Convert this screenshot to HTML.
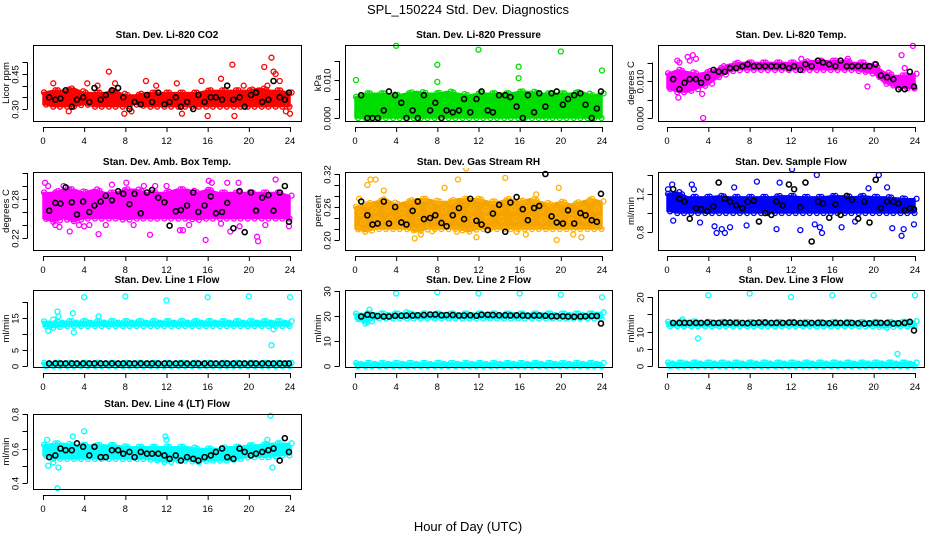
<!DOCTYPE html>
<html><head><meta charset="utf-8"><title>SPL_150224 Std. Dev. Diagnostics</title>
<style>
html,body{margin:0;padding:0;background:#fff;}
svg{display:block;font-family:"Liberation Sans",sans-serif;}
</style></head>
<body>
<svg id="fig" width="936" height="540" viewBox="0 0 936 540" xmlns="http://www.w3.org/2000/svg">
<rect x="0" y="0" width="936" height="540" fill="#fff"/>
<text x="468" y="14" text-anchor="middle" font-size="13">SPL_150224  Std. Dev. Diagnostics</text>
<text x="468" y="531" text-anchor="middle" font-size="13">Hour of Day (UTC)</text>
</svg>
<script>
// ---- shared data ----
const blackHours=[0.6,1.2,1.7,2.2,2.8,3.3,3.9,4.5,5.0,5.6,6.1,6.7,7.3,7.8,8.4,8.9,9.5,10.1,10.6,11.2,11.8,12.3,12.9,13.4,14.0,14.6,15.1,15.7,16.3,16.8,17.4,17.9,18.5,19.1,19.6,20.2,20.7,21.3,21.9,22.4,23.0,23.5,23.9];
const bandHours=[0,1,2,3,4,5,6,7,8,9,10,11,12,13,14,15,16,17,18,19,20,21,22,23,24];
const xTicks=[0,4,8,12,16,20,24];

// CO2
const co2Lo=[0.32,0.31,0.31,0.31,0.32,0.31,0.31,0.31,0.31,0.32,0.31,0.31,0.31,0.31,0.31,0.31,0.31,0.31,0.31,0.31,0.31,0.31,0.31,0.31,0.31];
const co2Hi=[0.37,0.38,0.38,0.39,0.37,0.37,0.37,0.38,0.36,0.36,0.37,0.37,0.37,0.37,0.37,0.37,0.38,0.38,0.38,0.38,0.38,0.39,0.38,0.38,0.37];
const co2OutX=[1.0,2.5,4.3,5.3,6.4,7.0,7.9,8.6,10.0,11.0,13.0,13.5,15.4,16.0,17.3,18.0,18.4,18.6,19.5,21.5,21.8,22.2,22.4,22.6,23.0,23.6,24.0];
const co2OutY=[0.41,0.29,0.41,0.40,0.46,0.41,0.28,0.29,0.42,0.40,0.41,0.28,0.42,0.27,0.43,0.37,0.49,0.27,0.40,0.48,0.40,0.52,0.46,0.45,0.42,0.29,0.28];
const co2Black=[0.35,0.34,0.345,0.38,0.31,0.34,0.35,0.33,0.39,0.34,0.36,0.38,0.39,0.35,0.30,0.33,0.32,0.36,0.33,0.37,0.32,0.33,0.35,0.31,0.33,0.30,0.36,0.33,0.35,0.35,0.34,0.40,0.34,0.35,0.31,0.36,0.37,0.33,0.34,0.42,0.35,0.34,0.37];
const co2Ticks=[0.30,0.35,0.40,0.45,0.50];
const co2Labels=["0.30","","","0.45",""];

// Pressure
const prLo=[0,0,0,0,0,0,0,0,0,0,0,0,0,0,0,0,0,0,0,0,0,0,0,0,0];
const prHi=[0.0055,0.0065,0.0065,0.0065,0.006,0.0065,0.007,0.0065,0.0065,0.007,0.0065,0.006,0.0065,0.0065,0.0065,0.0065,0.007,0.007,0.0065,0.0065,0.0065,0.0065,0.007,0.006,0.0065];
const prOutX=[0.1,4.0,8.0,8.0,12.0,15.9,15.9,20.0,24.0];
const prOutY=[0.010,0.019,0.014,0.0095,0.018,0.0135,0.0105,0.0175,0.0125];
const prBlack=[0.006,0,0,0,0.002,0.007,0.006,0.004,0,0.002,0,0.006,0.002,0.004,0,0.002,0.0015,0.002,0.005,0.0015,0.005,0.007,0.002,0.0015,0.006,0.006,0.0055,0.003,0,0.006,0.0015,0.0065,0.003,0.0065,0.007,0.0035,0.005,0.006,0.0065,0.0035,0,0.0025,0.007];
const prTicks=[0,0.005,0.010,0.015];
const prLabels=["0.000","","0.010",""];

// Li-820 temp
const tpLo=[0.008,0.007,0.007,0.008,0.009,0.011,0.0125,0.013,0.013,0.013,0.013,0.013,0.013,0.013,0.013,0.013,0.013,0.013,0.013,0.0125,0.012,0.0095,0.0085,0.008,0.008];
const tpHi=[0.012,0.013,0.0125,0.012,0.0125,0.0135,0.0145,0.015,0.015,0.015,0.015,0.015,0.015,0.015,0.0155,0.0155,0.0155,0.0155,0.015,0.015,0.0145,0.0125,0.0115,0.0115,0.012];
const tpOutX=[1.0,1.2,2.0,2.2,2.5,2.8,3.4,3.5,1.1,19.4,22.7,23.0,23.8,13.0,17.5];
const tpOutY=[0.0155,0.015,0.0165,0.0155,0.017,0.016,0.0065,0.0,0.0055,0.0085,0.017,0.0135,0.0195,0.016,0.016];
const tpBlack=[0.0105,0.0078,0.0095,0.0105,0.0105,0.0095,0.011,0.013,0.0125,0.0125,0.0135,0.0135,0.014,0.0145,0.014,0.014,0.014,0.014,0.014,0.014,0.0135,0.014,0.013,0.0145,0.014,0.0155,0.015,0.0145,0.014,0.0155,0.014,0.014,0.014,0.014,0.014,0.0145,0.0115,0.011,0.0105,0.0078,0.0078,0.0125,0.0085];
const tpTicks=[0,0.005,0.010,0.015];
const tpLabels=["0.000","","0.010",""];

// Ambient box temp
const abLo=[0.25,0.245,0.25,0.245,0.25,0.25,0.25,0.25,0.248,0.25,0.25,0.25,0.25,0.25,0.25,0.248,0.25,0.25,0.25,0.25,0.25,0.25,0.25,0.25,0.25];
const abHi=[0.29,0.29,0.295,0.295,0.29,0.295,0.29,0.29,0.295,0.295,0.29,0.29,0.29,0.295,0.295,0.29,0.295,0.29,0.29,0.29,0.29,0.29,0.29,0.29,0.285];
const abOutX=[0.2,0.5,1.2,1.6,2.6,3.5,4.0,4.5,5.4,6.1,6.7,8.8,10.4,10.9,12.0,13.3,13.6,15.8,16.1,16.4,17.3,17.9,18.2,19.1,20.8,20.9,21.6,22.6,23.5,23.9,2.0,8.1,14.2,19.0,9.8];
const abOutY=[0.305,0.30,0.240,0.237,0.230,0.24,0.238,0.24,0.226,0.24,0.302,0.240,0.225,0.30,0.30,0.232,0.232,0.217,0.308,0.305,0.242,0.305,0.23,0.238,0.222,0.215,0.24,0.31,0.26,0.238,0.30,0.305,0.24,0.305,0.30];
const abBlack=[0.262,0.274,0.273,0.298,0.275,0.256,0.276,0.260,0.270,0.276,0.285,0.278,0.292,0.288,0.272,0.288,0.258,0.290,0.294,0.282,0.275,0.239,0.261,0.263,0.270,0.290,0.260,0.270,0.284,0.258,0.260,0.274,0.235,0.292,0.229,0.290,0.262,0.282,0.286,0.262,0.290,0.300,0.245];
const abTicks=[0.22,0.24,0.26,0.28,0.30,0.32];
const abLabels=["0.22","","","0.28","",""];

// Gas stream RH
const rhLo=[0.22,0.215,0.22,0.22,0.22,0.22,0.215,0.22,0.22,0.22,0.22,0.215,0.22,0.22,0.22,0.22,0.22,0.22,0.22,0.22,0.22,0.22,0.22,0.22,0.22];
const rhHi=[0.26,0.265,0.27,0.275,0.265,0.27,0.275,0.275,0.27,0.27,0.275,0.275,0.275,0.27,0.27,0.275,0.27,0.275,0.27,0.265,0.27,0.265,0.27,0.275,0.27];
const rhOutX=[0.4,1.2,1.5,2.0,2.8,5.8,6.4,7.5,8.7,10.0,10.8,11.8,14.6,15.7,16.6,17.6,19.6,19.8,21.2,22.0,9.9,4.1];
const rhOutY=[0.275,0.300,0.310,0.310,0.290,0.203,0.210,0.216,0.295,0.310,0.330,0.205,0.313,0.215,0.210,0.283,0.200,0.295,0.210,0.205,0.215,0.225];
const rhBlack=[0.270,0.245,0.228,0.230,0.270,0.230,0.260,0.232,0.228,0.253,0.270,0.238,0.240,0.245,0.231,0.225,0.245,0.258,0.238,0.275,0.235,0.228,0.218,0.248,0.264,0.215,0.268,0.278,0.256,0.236,0.258,0.262,0.320,0.243,0.232,0.230,0.254,0.230,0.249,0.245,0.236,0.233,0.284];
const rhTicks=[0.20,0.22,0.24,0.26,0.28,0.30,0.32];
const rhLabels=["0.20","","","0.26","","","0.32"];

// Sample flow
const sfLo=[1.02,1.0,1.0,1.0,1.0,1.0,1.0,1.0,1.0,1.0,1.0,1.0,1.0,1.0,1.0,1.0,1.0,1.0,1.0,1.0,1.0,1.0,1.0,1.0,1.0];
const sfHi=[1.2,1.22,1.17,1.17,1.17,1.18,1.17,1.17,1.17,1.17,1.17,1.18,1.18,1.17,1.17,1.17,1.18,1.18,1.17,1.18,1.17,1.17,1.16,1.15,1.15];
const sfOutX=[0.1,0.6,0.5,2.4,2.6,3.2,4.6,4.8,5.3,5.6,6.1,6.5,7.7,8.7,10.6,10.9,12.1,12.9,14.3,14.5,14.8,15.0,16.9,18.2,19.5,20.5,21.3,21.8,22.7,22.9,23.9];
const sfOutY=[1.25,0.92,1.3,1.3,1.25,0.9,0.86,0.79,0.83,0.79,0.85,1.27,0.87,1.33,0.83,1.32,1.46,0.82,0.88,1.40,0.85,0.79,0.85,0.91,1.26,1.40,1.27,0.84,0.76,0.83,0.88];
const sfBlack=[1.25,1.15,1.12,0.94,1.05,1.04,1.02,1.07,1.32,1.15,1.12,1.08,1.05,1.12,1.13,0.91,1.0,0.98,1.12,1.08,1.30,1.25,1.06,1.32,0.7,1.12,1.10,0.95,1.09,0.98,1.18,1.14,0.94,1.12,0.90,1.35,1.05,1.12,1.12,1.10,1.03,1.05,1.04];
const sfTicks=[0.8,1.0,1.2,1.4];
const sfLabels=["0.8","","1.2",""];

// Line 1 flow
const l1Lo=[12.5,12,12.5,12.5,12.5,12.5,12.5,12.5,12.5,12.5,12.5,12.5,12.5,12.5,12.5,12.5,12.5,12.5,12.5,12.5,12.5,12.5,12.5,12.5,12.5];
const l1Hi=[14,13.5,14,14,14,14,14,14,14,14,14,14,14,14,14,14,14,14,14,14,14,14,14,14,14];
const l1Lo2=[0,0,0,0,0,0,0,0,0,0,0,0,0,0,0,0,0,0,0,0,0,0,0,0,0];
const l1Hi2=[1,1,1,1,1,1,1,1,1,1,1,1,1,1,1,1,1,1,1,1,1,1,1,1,1];
const l1OutX=[0.5,1.4,1.5,2.9,3.0,4.0,5.4,8.0,12.0,16.0,20.0,22.2,22.4,24.0,1.0];
const l1OutY=[11,17,15.5,16.5,10.5,21.5,15.5,21.8,20.5,21.5,21.8,6.5,11.5,21.5,14.5];
const l1Black=[0.8,0.8,0.8,0.8,0.8,0.8,0.8,0.8,0.8,0.8,0.8,0.8,0.8,0.8,0.8,0.8,0.8,0.8,0.8,0.8,0.8,0.8,0.8,0.8,0.8,0.8,0.8,0.8,0.8,0.8,0.8,0.8,0.8,0.8,0.8,0.8,0.8,0.8,0.8,0.8,0.8,0.8,0.8];
const l1Ticks=[0,5,10,15,20];
const l1Labels=["0","5","","15",""];

// Line 2 flow
const l2Lo=[19,17,19,19,19,19,19,19,19,19,19,19,19,19,19,19,19,19,19,19,19,19,19,19,19];
const l2Hi=[21,21,21,21,21,21,21,21,21,21,21,21,21,21,21,21,21,21,21,21,21,21,21,21,21.5];
const l2Lo2=[0,0,0,0,0,0,0,0,0,0,0,0,0,0,0,0,0,0,0,0,0,0,0,0,0];
const l2Hi2=[1.2,1.2,1.2,1.2,1.2,1.2,1.2,1.2,1.2,1.2,1.2,1.2,1.2,1.2,1.2,1.2,1.2,1.2,1.2,1.2,1.2,1.2,1.2,1.2,1.2];
const l2OutX=[1.4,1.2,4.0,5.0,8.0,12.0,16.0,20.0,24.0];
const l2OutY=[22.5,17.5,29,21.5,29.5,29,29,28.5,27.5];
const l2Black=[19.8,20.5,20.3,20.0,19.8,19.8,20.1,20.1,20.2,20.2,20.3,20.4,20.6,20.6,20.3,20.4,20.4,20.2,20.2,20.3,20.1,20.5,20.5,20.4,20.3,20.3,20.2,20.3,20.2,20.1,20.2,20.2,20.1,19.9,19.9,19.9,19.8,19.7,19.8,19.9,20.0,20.0,17.0];
const l2Ticks=[0,10,20,30];
const l2Labels=["0","10","20","30"];

// Line 3 flow
const l3Lo=[11.5,11.5,11.5,11.5,11.5,11.5,11.5,11.5,11.5,11.5,11.5,11.5,11.5,11.5,11.5,11.5,11.5,11.5,11.5,11.5,11.5,11,11.5,11.5,11.5];
const l3Hi=[12.8,12.8,13,12.8,12.8,12.8,12.8,12.8,12.8,12.8,12.8,12.8,12.8,12.8,12.8,12.8,12.8,12.8,12.8,12.8,12.8,12.8,12.8,12.8,13];
const l3Lo2=[0,0,0,0,0,0,0,0,0,0,0,0,0,0,0,0,0,0,0,0,0,0,0,0,0];
const l3Hi2=[1,1,1,1,1,1,1,1,1,1,1,1,1,1,1,1,1,1,1,1,1,1,1,1,1];
const l3OutX=[1.5,3.0,4.0,8.0,12.0,16.0,20.0,22.3,24.0];
const l3OutY=[13.5,8,20.5,21,20,20.5,20.5,3.5,20.5];
const l3Black=[12.5,12.5,12.5,12.5,12.5,12.5,12.6,12.5,12.5,12.6,12.6,12.5,12.5,12.4,12.5,12.6,12.6,12.5,12.5,12.5,12.6,12.6,12.5,12.4,12.5,12.5,12.5,12.4,12.5,12.5,12.5,12.5,12.4,12.3,12.4,12.5,12.5,12.5,12.3,12.4,12.5,12.8,10.3];
const l3Ticks=[0,5,10,15,20];
const l3Labels=["0","5","10","","20"];

// Line 4 (LT) flow
const l4Lo=[0.56,0.54,0.54,0.54,0.54,0.54,0.54,0.54,0.54,0.54,0.54,0.53,0.52,0.53,0.53,0.52,0.53,0.53,0.53,0.54,0.55,0.55,0.55,0.56,0.56];
const l4Hi=[0.62,0.63,0.63,0.62,0.62,0.62,0.62,0.62,0.61,0.61,0.61,0.61,0.61,0.61,0.61,0.6,0.6,0.6,0.61,0.61,0.62,0.62,0.63,0.63,0.63];
const l4OutX=[0.4,0.5,1.0,1.4,1.5,2.9,4.0,11.9,12.0,22.1,22.3,21.8,23.9];
const l4OutY=[0.65,0.5,0.52,0.37,0.49,0.67,0.7,0.67,0.65,0.79,0.49,0.65,0.6];
const l4Black=[0.55,0.56,0.6,0.59,0.59,0.63,0.61,0.56,0.61,0.55,0.55,0.59,0.59,0.57,0.58,0.55,0.58,0.57,0.57,0.57,0.56,0.54,0.56,0.53,0.55,0.54,0.53,0.55,0.56,0.58,0.6,0.55,0.54,0.6,0.58,0.56,0.57,0.58,0.59,0.6,0.53,0.66,0.58];
const l4Ticks=[0.4,0.5,0.6,0.7,0.8];
const l4Labels=["0.4","","0.6","","0.8"];

// ---- layout ----
const cols=[{bl:33,br:301,x0:43,x24:290},{bl:345,br:612,x0:355,x24:602},{bl:658,br:924,x0:667,x24:915}];
const rows=[{bt:45,bb:121},{bt:172,bb:250},{bt:290,bb:367},{bt:414,bb:489}];
const panels=[
 {name:"co2",title:"Stan. Dev. Li-820 CO2",yl:"Licor ppm",c:0,r:0,col:"#ff0000",v0:0.30,p0:109,v1:0.45,p1:74,bands:[[co2Lo,co2Hi]],ox:co2OutX,oy:co2OutY,bk:co2Black,ticks:co2Ticks,labels:co2Labels},
 {name:"pressure",title:"Stan. Dev. Li-820 Pressure",yl:"kPa",c:1,r:0,col:"#00dd00",v0:0,p0:118,v1:0.010,p1:80,bands:[[prLo,prHi]],ox:prOutX,oy:prOutY,bk:prBlack,ticks:prTicks,labels:prLabels},
 {name:"li820-temp",title:"Stan. Dev. Li-820 Temp.",yl:"degrees C",c:2,r:0,col:"#ff00ff",v0:0,p0:118,v1:0.010,p1:81,bands:[[tpLo,tpHi]],ox:tpOutX,oy:tpOutY,bk:tpBlack,ticks:tpTicks,labels:tpLabels},
 {name:"amb-box-temp",title:"Stan. Dev. Amb. Box Temp.",yl:"degrees C",c:0,r:1,col:"#ff00ff",v0:0.22,p0:238,v1:0.28,p1:199,bands:[[abLo,abHi]],ox:abOutX,oy:abOutY,bk:abBlack,ticks:abTicks,labels:abLabels},
 {name:"gas-stream-rh",title:"Stan. Dev. Gas Stream RH",yl:"percent",c:1,r:1,col:"#f5a300",oc:"#ffb000",v0:0.20,p0:240,v1:0.32,p1:174,bands:[[rhLo,rhHi]],ox:rhOutX,oy:rhOutY,bk:rhBlack,ticks:rhTicks,labels:rhLabels},
 {name:"sample-flow",title:"Stan. Dev. Sample Flow",yl:"ml/min",c:2,r:1,col:"#0000ff",v0:0.8,p0:232,v1:1.2,p1:194,bands:[[sfLo,sfHi]],ox:sfOutX,oy:sfOutY,bk:sfBlack,ticks:sfTicks,labels:sfLabels},
 {name:"line1-flow",title:"Stan. Dev. Line 1 Flow",yl:"ml/min",c:0,r:2,col:"#00ffff",v0:0,p0:366,v1:15,p1:318,bands:[[l1Lo,l1Hi],[l1Lo2,l1Hi2]],ox:l1OutX,oy:l1OutY,bk:l1Black,ticks:l1Ticks,labels:l1Labels},
 {name:"line2-flow",title:"Stan. Dev. Line 2 Flow",yl:"ml/min",c:1,r:2,col:"#00ffff",v0:0,p0:366,v1:30,p1:291,bands:[[l2Lo,l2Hi],[l2Lo2,l2Hi2]],ox:l2OutX,oy:l2OutY,bk:l2Black,ticks:l2Ticks,labels:l2Labels},
 {name:"line3-flow",title:"Stan. Dev. Line 3 Flow",yl:"ml/min",c:2,r:2,col:"#00ffff",v0:0,p0:366,v1:20,p1:297,bands:[[l3Lo,l3Hi],[l3Lo2,l3Hi2]],ox:l3OutX,oy:l3OutY,bk:l3Black,ticks:l3Ticks,labels:l3Labels},
 {name:"line4-lt-flow",title:"Stan. Dev. Line 4 (LT) Flow",yl:"ml/min",c:0,r:3,col:"#00ffff",v0:0.4,p0:483,v1:0.8,p1:414,bands:[[l4Lo,l4Hi]],ox:l4OutX,oy:l4OutY,bk:l4Black,ticks:l4Ticks,labels:l4Labels}
];
const NS="http://www.w3.org/2000/svg";
const svg=document.getElementById('fig');
function mk(tag,attrs,parent){const e=document.createElementNS(NS,tag);for(const k in attrs)e.setAttribute(k,attrs[k]);(parent||svg).appendChild(e);return e;}
function interp(arr,h){const i=Math.min(23,Math.floor(h));const f=h-i;return arr[i]*(1-f)+arr[i+1]*f;}

panels.forEach(p=>{
  const C=cols[p.c],R=rows[p.r];
  const xs=h=>C.x0+h/24*(C.x24-C.x0);
  const ys=v=>p.p0+(v-p.v0)*(p.p1-p.p0)/(p.v1-p.v0);
  const g=mk('g',{});
  
  
  const clip=mk('clipPath',{id:'clip-'+p.name},g);
  mk('rect',{x:C.bl,y:R.bt-4,width:C.br-C.bl,height:R.bb-R.bt+6},clip);
  const plot=mk('g',{'clip-path':'url(#clip-'+p.name+')'},g);
  
  
  const oc=p.oc||p.col;
  // bands
  p.bands.forEach((b,bi)=>{
    const lo=b[0],hi=b[1];
    let pts=bandHours.map((h,i)=>xs(h)+','+ys(hi[i]));
    pts=pts.concat(bandHours.slice().reverse().map((h,j)=>{const i=bandHours.length-1-j;return xs(h)+','+ys(lo[i]);}));
    const poly=mk('polygon',{points:pts.join(' '),fill:p.col,stroke:p.col,'stroke-width':1.5,'stroke-linejoin':'round'},plot);
    
    
    let k=0;
    for(let h=0.1;h<=24;h+=0.45){
      const fr=[0,0.35,1][k%3];const fr2=[1,0.7,0][k%3];k++;
      const yhi=interp(hi,h),ylo=interp(lo,h);
      const c1=mk('circle',{cx:xs(h),cy:ys(ylo+(yhi-ylo)*fr2),r:2.5,fill:'none',stroke:oc,'stroke-width':1.3},plot);
      
      
      const c2=mk('circle',{cx:xs(h+0.2),cy:ys(ylo+(yhi-ylo)*fr),r:2.5,fill:'none',stroke:oc,'stroke-width':1.3},plot);
      
      
    }
  });
  p.ox.forEach((h,i)=>{
    const c=mk('circle',{cx:xs(h),cy:ys(p.oy[i]),r:2.5,fill:'none',stroke:oc,'stroke-width':1.3},plot);
    
    
  });
  p.bk.forEach((v,i)=>{
    const c=mk('circle',{cx:xs(blackHours[i]),cy:ys(v),r:2.5,fill:'none',stroke:'#000','stroke-width':1.6},plot);
    
    
  });
  // frame
  const fr=mk('rect',{x:C.bl+0.5,y:R.bt+0.5,width:C.br-C.bl,height:R.bb-R.bt,fill:'none',stroke:'#000','stroke-width':1},g);
  
  
  // title
  const t=mk('text',{x:(C.bl+C.br)/2,y:R.bt-7,'text-anchor':'middle','font-size':10,'font-weight':'bold'},g);
  t.textContent=p.title;
  
  
  // x axis
  const xa=mk('g',{},g);
  
  
  mk('line',{x1:xs(0),x2:xs(24),y1:R.bb+6.5,y2:R.bb+6.5,stroke:'#000'},xa);
  xTicks.forEach(h=>{
    mk('line',{x1:xs(h)+0.5,x2:xs(h)+0.5,y1:R.bb+6,y2:R.bb+11,stroke:'#000'},xa);
    const tl=mk('text',{x:xs(h),y:R.bb+23,'text-anchor':'middle','font-size':9.5},xa);
    tl.textContent=String(h);
    
    
  });
  // y axis
  const ya=mk('g',{},g);
  
  
  const ax=C.bl-5.5;
  mk('line',{x1:ax,x2:ax,y1:ys(p.ticks[0]),y2:ys(p.ticks[p.ticks.length-1]),stroke:'#000'},ya);
  p.ticks.forEach((v,i)=>{
    const y=Math.round(ys(v))+0.5;
    mk('line',{x1:ax-5,x2:ax,y1:y,y2:y,stroke:'#000'},ya);
    if(p.labels[i]){
      const tl=mk('text',{x:0,y:0,'text-anchor':'middle','font-size':9.5,transform:'translate('+(ax-9)+','+y+') rotate(-90)'},ya);
      tl.textContent=p.labels[i];
      
      
    }
  });
  const yt=mk('text',{x:0,y:0,'text-anchor':'middle','font-size':9.5,transform:'translate('+(C.bl-24)+','+((R.bt+R.bb)/2)+') rotate(-90)'},g);
  yt.textContent=p.yl;
  
  
});
</script>
</body></html>
